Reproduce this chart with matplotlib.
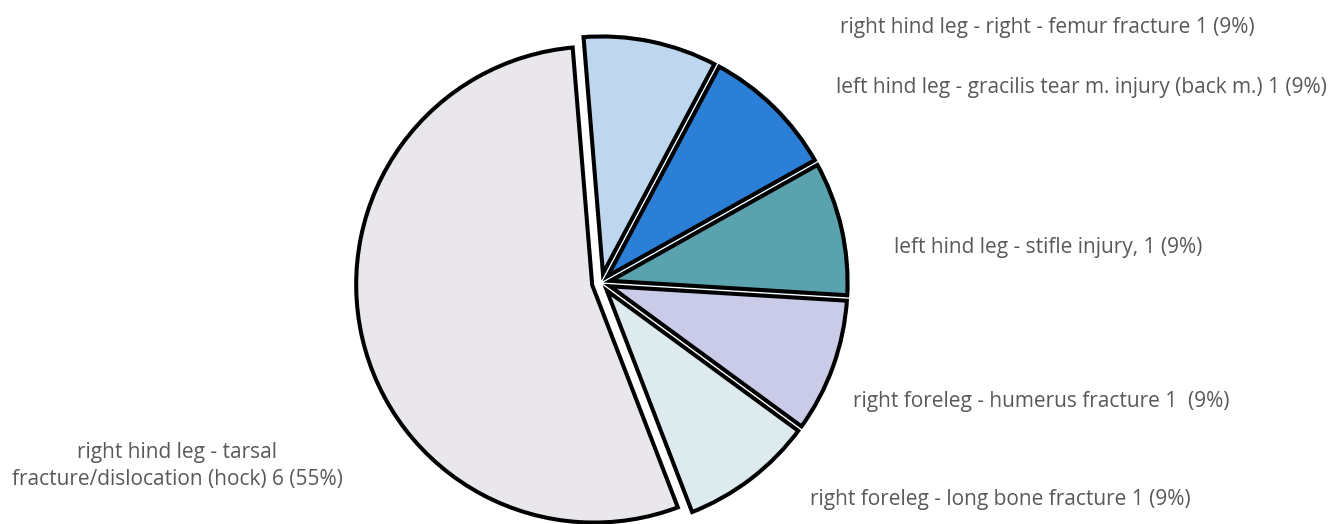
import matplotlib
matplotlib.use("Agg")
import matplotlib.pyplot as plt

labels = [
    "right hind leg - right - femur fracture 1 (9%)",
    "left hind leg - gracilis tear m. injury (back m.) 1 (9%)",
    "left hind leg - stifle injury, 1 (9%)",
    "right foreleg - humerus fracture 1  (9%)",
    "right foreleg - long bone fracture 1 (9%)",
    "right hind leg - tarsal\nfracture/dislocation (hock) 6 (55%)",
]
counts = [1, 1, 1, 1, 1, 6]
colors = ["#BED7EE", "#2B7FD7", "#5AA2AD", "#CACBE8", "#DDEBEF", "#E9E7EB"]

W, H = 1333, 524
fig = plt.figure(figsize=(W / 100, H / 100), dpi=100)
ax = fig.add_axes([0, 0, 1, 1])
ax.set_xlim(0, W)
ax.set_ylim(0, H)
ax.set_aspect("equal")

cx, cy, R = 601, H - 283, 246
explode = [2.6, 2.6, 2.6, 2.6, 2.6, 7]
pie_kw = dict(explode=explode, startangle=94.7, counterclock=False,
              center=(cx, cy), radius=R, frame=True)
fills, _ = ax.pie(counts, colors=colors, wedgeprops=dict(linewidth=0), **pie_kw)
edges, _ = ax.pie(counts, colors=["none"] * len(counts),
                  wedgeprops=dict(edgecolor="black", linewidth=5.8,
                                  joinstyle="miter"), **pie_kw)
ax.set_xlim(0, W)
ax.set_ylim(0, H)
ax.set_aspect("equal")
ax.axis("off")
fills[5].set_radius(240)
edges[5].set_radius(240)
for f, e in zip(fills, edges):
    e.set_clip_on(True)
    e.set_clip_path(f.get_path(), f.get_transform())

txt = dict(color="#595959", fontsize=15, family="Open Sans", ha="center", va="center")
label_pos = [(1047, 28), (1081, 88), (1048, 248), (1041, 402), (1000, 500), (177, 466)]
for lab, (x, y) in zip(labels, label_pos):
    ax.text(x, H - y, lab, linespacing=1.35, **txt)

fig.savefig("out.png", dpi=100)
